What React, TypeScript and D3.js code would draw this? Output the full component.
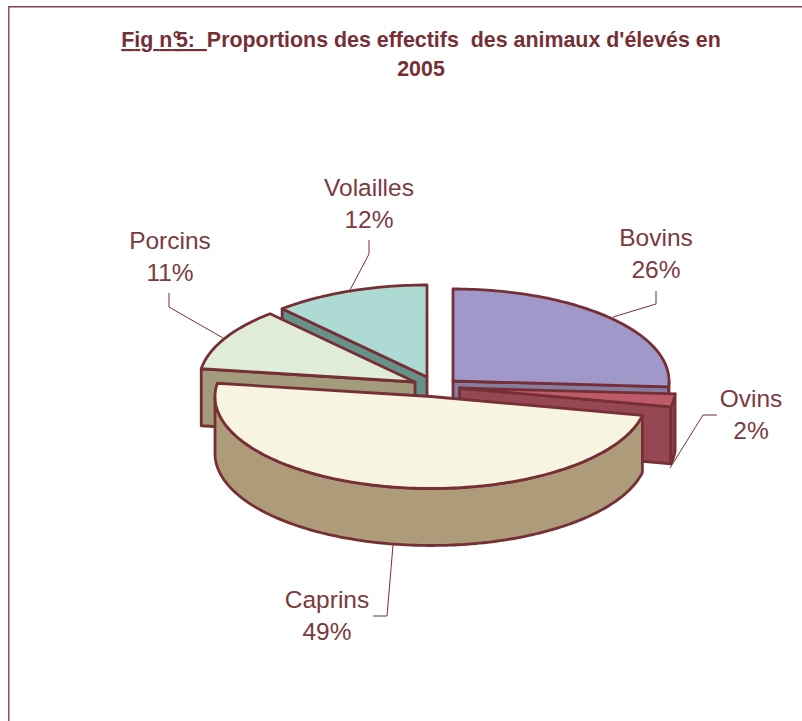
import React from "react";
import * as d3 from "d3";

const categories = ["Bovins", "Ovins", "Caprins", "Porcins", "Volailles"];
const shares = [26, 2.3, 49, 11, 11.7];
const shownLabels = ["26%", "2%", "49%", "11%", "12%"];
const titleUnderlined = "Fig n°5:  ";
const titleLine1 = "Proportions des effectifs  des animaux d'élevés en";
const titleLine2 = "2005";

const topColors = ["#9f98c8", "#bd5b68", "#f7f4e0", "#dfecd9", "#aedad4"];
const sideColors = ["#857ea0", "#954753", "#ad9b7a", "#a39c7c", "#66928a"];
const INK = "#772f36";
const TEXT = "#7a3a40";

const RX = 216, RY = 92, DEPTH = 57;
// exploded apex of each slice on screen
const apexes: Record<string, [number, number]> = {
  Bovins: [453, 381],
  Ovins: [459.5, 388],
  Caprins: [431, 396.5],
  Porcins: [415, 382],
  Volailles: [427, 377],
};
// label anchor and leader polyline per slice
const labelPos: Record<string, { x: number; y: number; leader: [number, number][] }> = {
  Bovins: { x: 656, y: 246, leader: [[656, 291], [656, 304], [613, 317]] },
  Ovins: { x: 751, y: 407, leader: [[717, 415], [703, 415], [670, 468]] },
  Caprins: { x: 327, y: 608, leader: [[373, 616], [387, 616], [393, 545]] },
  Porcins: { x: 170, y: 249, leader: [[169, 293], [169, 307], [223, 338]] },
  Volailles: { x: 369, y: 196, leader: [[369, 240], [369, 254], [350, 290]] },
};
const paintOrder = ["Volailles", "Porcins", "Bovins", "Ovins", "Caprins"];

const line = d3.line<[number, number]>();
const project = (c: [number, number], a: number, dz = 0): [number, number] => [
  c[0] + RX * Math.sin(a),
  c[1] - RY * Math.cos(a) + dz,
];
const arcPts = (c: [number, number], a0: number, a1: number, dz = 0) => {
  const n = Math.max(2, Math.ceil(Math.abs(a1 - a0) / 0.02));
  return d3.range(n + 1).map((i) => project(c, a0 + ((a1 - a0) * i) / n, dz));
};

export default function App() {
  const arcs = d3.pie<number>().sort(null)(shares);
  const byName = new Map(categories.map((n, i) => [n, { i, arc: arcs[i] }]));

  return (
    <svg
      width={802}
      height={721}
      viewBox="0 0 802 721"
      style={{ position: "absolute", left: 0, top: 0, display: "block", background: "#fff" }}
      fontFamily="'Liberation Sans', Arial, sans-serif"
    >
      <path d={line([[802, 6.8], [8.8, 6.8], [8.8, 721]])!} fill="none" stroke="#86454c" strokeWidth={1.4} />

      <text x={421} y={47} textAnchor="middle" fontSize={21.4} fontWeight="bold" fill={INK} style={{ whiteSpace: "pre" }}>
        <tspan
          dx="0 0 0 0 0 0 -5"
          style={{ textDecoration: "underline", textDecorationThickness: "3px" }}
        >
          {titleUnderlined}
        </tspan>
        <tspan>{titleLine1}</tspan>
      </text>
      <text x={421} y={76} textAnchor="middle" fontSize={21.4} fontWeight="bold" fill={INK}>
        {titleLine2}
      </text>

      {paintOrder.map((name) => {
        const { i, arc } = byName.get(name)!;
        const c = apexes[name];
        const a0 = arc.startAngle, a1 = arc.endAngle;
        const side = sideColors[i];
        const common = { stroke: INK, strokeWidth: 2.8, strokeLinejoin: "round" as const };
        const face = (a: number) => {
          const p = project(c, a);
          const q = project(c, a, DEPTH);
          return line([c, p, q, [c[0], c[1] + DEPTH], c])! + "Z";
        };
        const r0 = Math.max(a0, Math.PI / 2), r1 = Math.min(a1, (3 * Math.PI) / 2);
        const rim =
          r1 > r0
            ? line([...arcPts(c, r0, r1), ...arcPts(c, r1, r0, DEPTH)])! + "Z"
            : null;
        const top = line([c, ...arcPts(c, a0, a1)])! + "Z";
        return (
          <g key={name}>
            {Math.sin(a0) < 0 && <path d={face(a0)} fill={side} {...common} />}
            {Math.sin(a1) > 0 && <path d={face(a1)} fill={side} {...common} />}
            {rim && <path d={rim} fill={side} {...common} />}
            <path d={top} fill={topColors[i]} {...common} />
          </g>
        );
      })}

      {categories.map((name, i) => {
        const l = labelPos[name];
        return (
          <g key={name}>
            <path d={line(l.leader)!} fill="none" stroke={INK} strokeWidth={1} />
            <text x={l.x} y={l.y} textAnchor="middle" fontSize={24.5} fill={TEXT}>
              {name}
            </text>
            <text x={l.x} y={l.y + 32} textAnchor="middle" fontSize={24.5} fill={TEXT}>
              {shownLabels[i]}
            </text>
          </g>
        );
      })}
    </svg>
  );
}
